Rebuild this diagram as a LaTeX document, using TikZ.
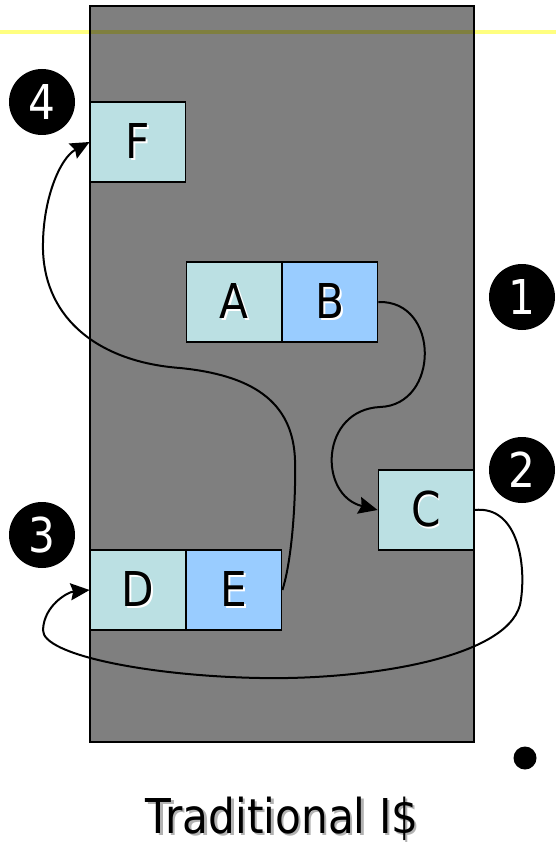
\documentclass[tikz,border=0pt]{standalone}
\usepackage{fontspec}
\setmainfont{DejaVu Sans}[FakeStretch=0.88]
\usetikzlibrary{arrows.meta}
\definecolor{cellpale}{HTML}{BBE0E3}
\definecolor{cellblue}{HTML}{99CCFF}
\definecolor{rulerule}{HTML}{FFFF80}
\newcommand\wshadow[1]{\rlap{\hspace{1.5pt}\raisebox{-1.5pt}{\color{white}#1}}#1}
\newcommand\gshadow[1]{\rlap{\hspace{2.5pt}\raisebox{-2.5pt}{\color{black!30}#1}}#1}
\tikzset{
  cell/.style={draw=black, line width=1.8pt, minimum width=95pt, minimum height=80pt,
    inner sep=0pt, font=\fontsize{48}{48}\selectfont, text=black},
  badge/.style={circle, fill=black, minimum size=66pt, inner sep=0pt,
    text=white, font=\fontsize{48}{48}\selectfont},
  link/.style={line width=2pt, -{Stealth[length=19pt, width=17pt, inset=2.5pt]}},
}
\begin{document}
\begin{tikzpicture}[x=1pt, y=-1pt]
\useasboundingbox (0,0) rectangle (556,842);
\fill[white] (0,0) rectangle (556,842);
% slide rule line behind the cache frame
\draw[rulerule, line width=4.5pt] (0,32) -- (556,32);
% cache frame
\fill[black, fill opacity=0.5] (90,6) rectangle (474,742);
\draw[black, line width=1.8pt] (90,6) rectangle (474,742);
% cache lines
\node[cell, fill=cellpale] (F) at (138,142) {\wshadow{F}};
\node[cell, fill=cellpale] (A) at (234,302) {\wshadow{A}};
\node[cell, fill=cellblue] (B) at (330,302) {\wshadow{B}};
\node[cell, fill=cellpale] (C) at (426,510) {\wshadow{C}};
\node[cell, fill=cellpale] (D) at (138,590) {\wshadow{D}};
\node[cell, fill=cellblue] (E) at (234,590) {\wshadow{E}};
% step numbers
\node[badge] (n1) at (522,297) {1};
\node[badge] (n2) at (522,470) {2};
\node[badge] (n3) at (42,535) {3};
\node[badge] (n4) at (42,102) {4};
% fetch order
\draw[link] (B.east) .. controls (440,300) and (440,405) .. (380,407)
  .. controls (320,410) and (318,495) .. (C.west);
\draw[link] (C.east) .. controls (520,505) and (527,570) .. (520,605)
  .. controls (505,660) and (360,680) .. (260,678)
  .. controls (150,676) and (42,655) .. (43,630)
  .. controls (44,605) and (68,592) .. (D.west);
\draw[link] (E.east) .. controls (292,560) and (296,500) .. (295,460)
  .. controls (293,400) and (250,375) .. (180,368)
  .. controls (100,362) and (45,320) .. (43,250)
  .. controls (42,200) and (60,158) .. (F.west);
% bullet and caption
\fill[black] (525,758) circle (11.5);
\node[font=\fontsize{48}{48}\selectfont, anchor=base] (title) at (282,833) {\gshadow{Traditional I\$}};
\end{tikzpicture}
\end{document}
